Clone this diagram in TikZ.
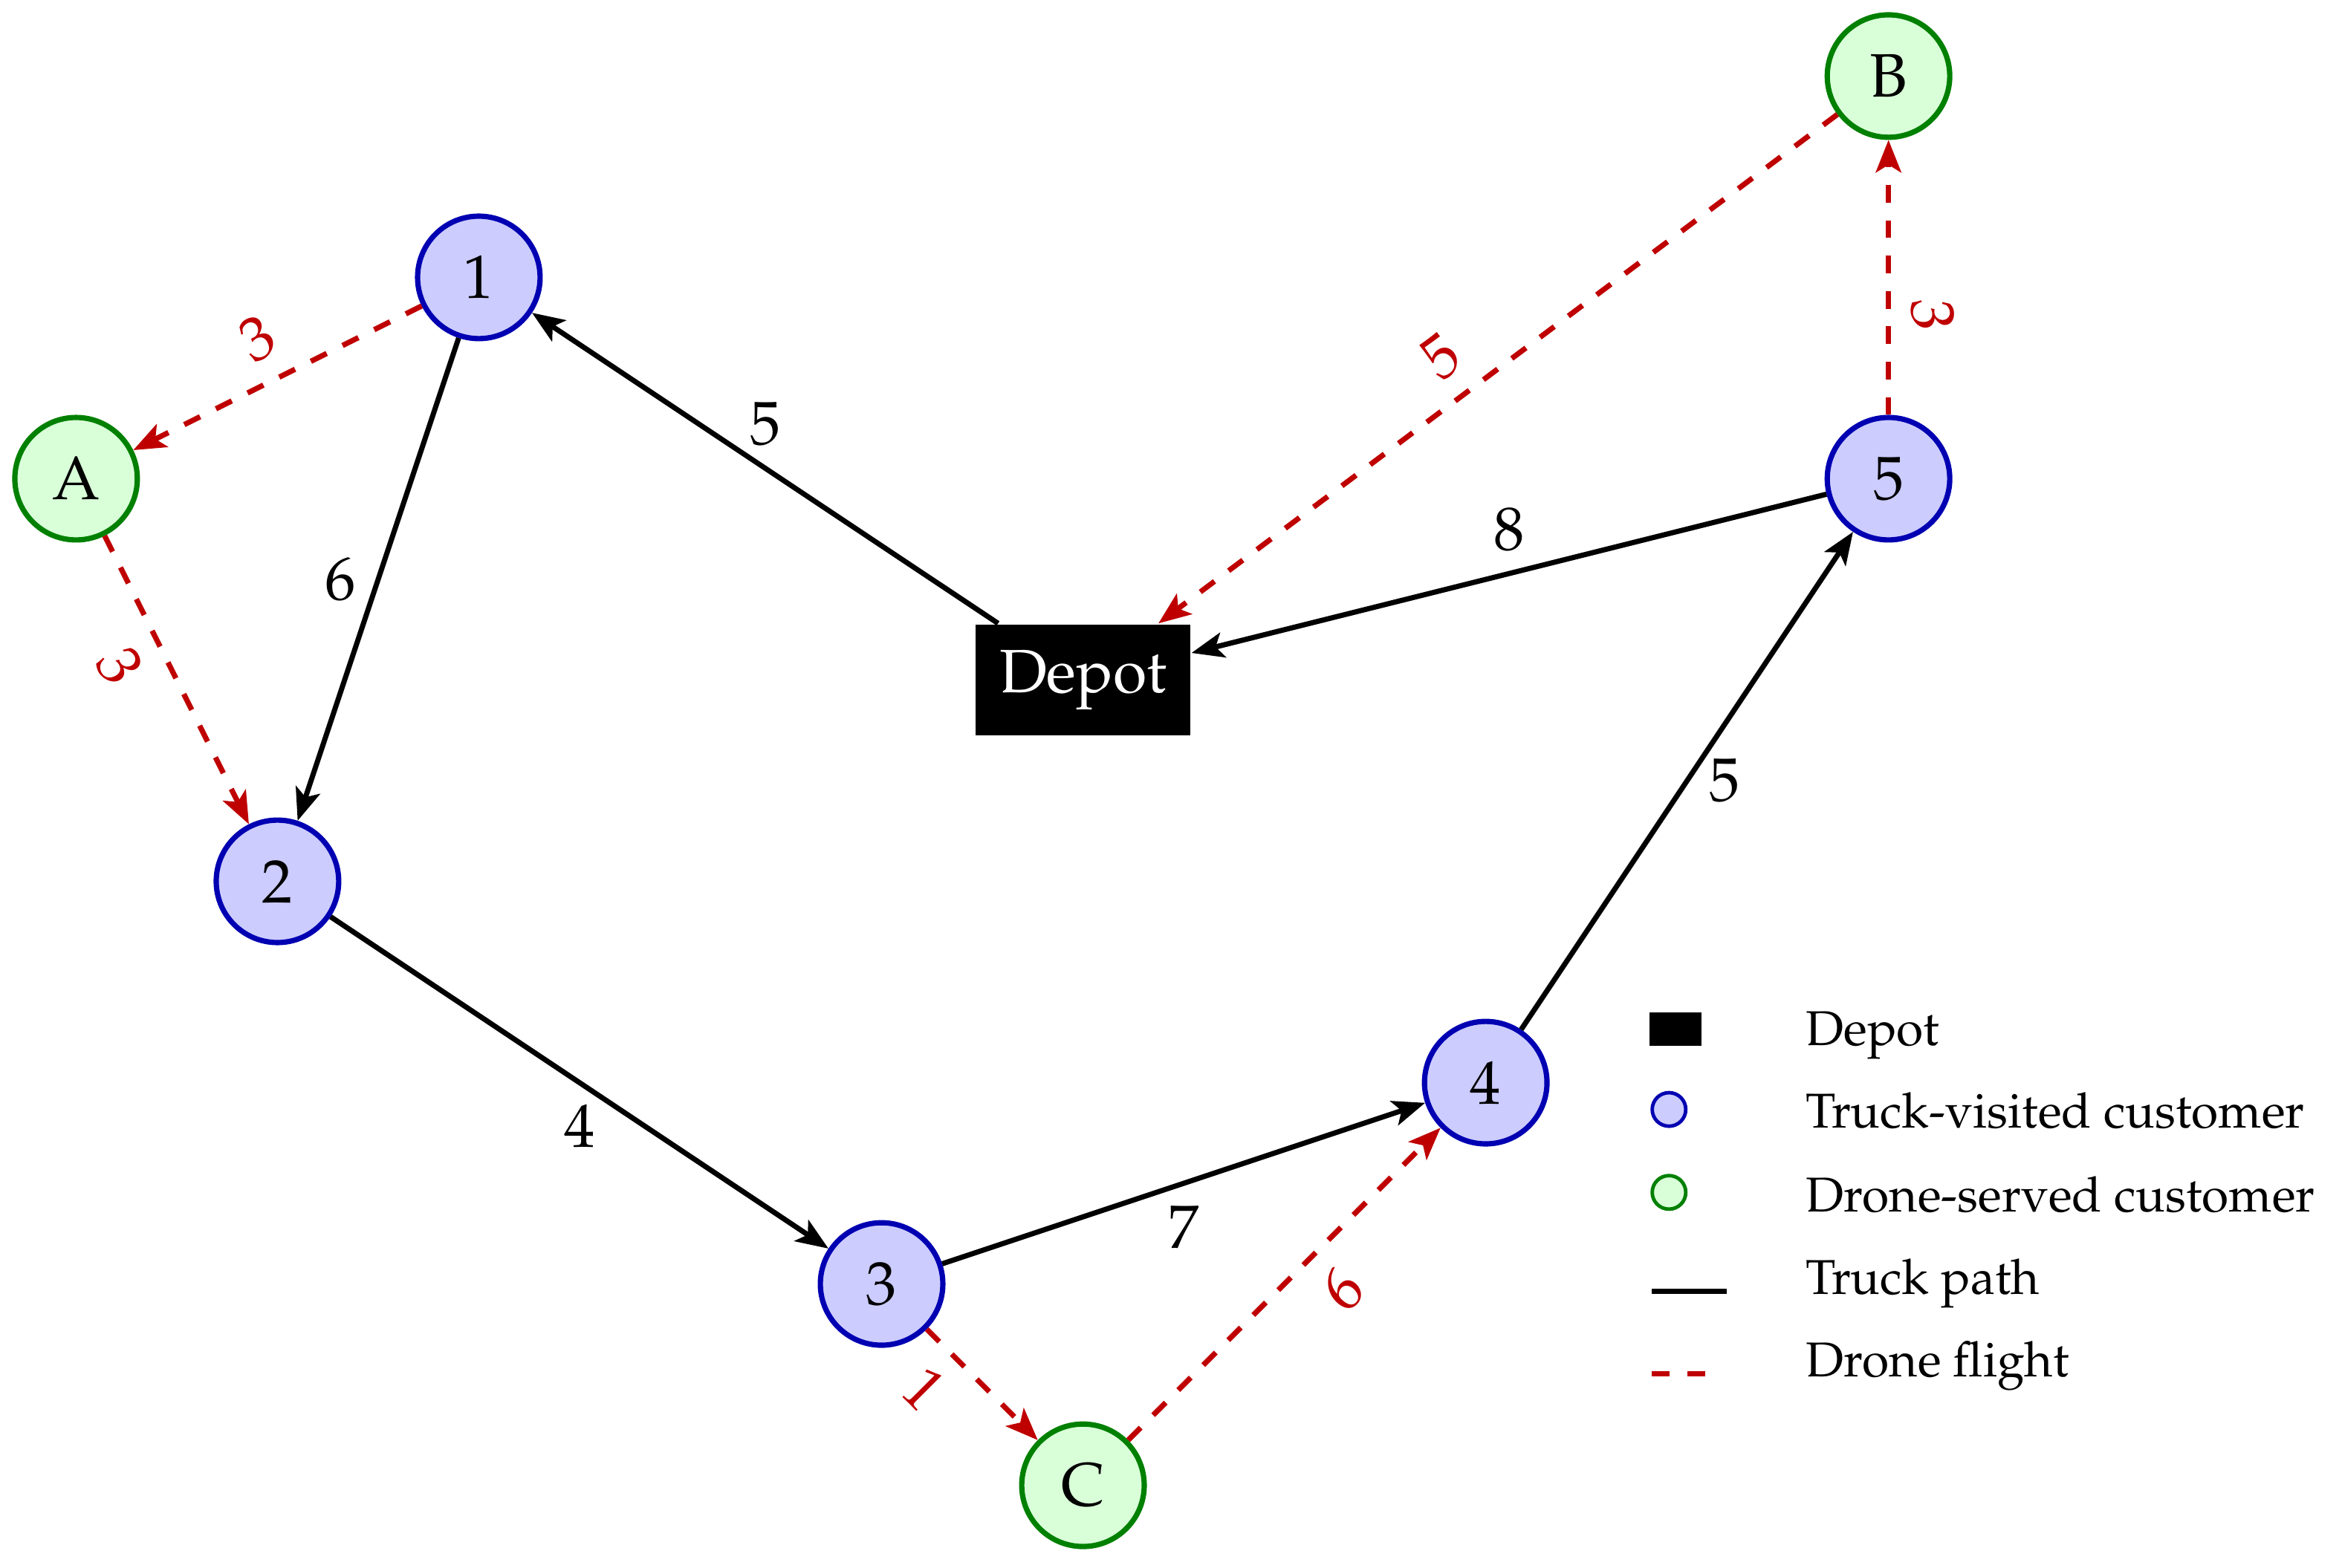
\documentclass[tikz,border=0pt]{standalone}
\usepackage[T1]{fontenc}
\usepackage{mathpazo}
\usetikzlibrary{arrows.meta}
\begin{document}
\begin{tikzpicture}[x=1.2cm,y=1.2cm,
  every node/.style={font=\fontsize{10.4}{12.5}\selectfont},
  truck/.style={circle, draw=blue!70!black, fill=blue!20, line width=0.9pt, minimum size=0.73cm, inner sep=0pt},
  drone/.style={circle, draw=green!50!black, fill=green!15, line width=0.9pt, minimum size=0.73cm, inner sep=0pt},
  depotbox/.style={rectangle, fill=black, text=white, minimum width=36.4pt, minimum height=18.8pt, inner sep=0pt},
  tip/.style={-{Stealth[length=5.5pt,width=4.3pt,inset=1.3pt]}},
  truckedge/.style={line width=0.88pt, black, tip},
  droneedge/.style={line width=0.9pt, red!75!black, dashed, tip},
  dlabel/.style={midway, text=red!75!black},
  legtext/.style={anchor=base west, inner sep=0pt, font=\fontsize{8.3}{10}\selectfont},
]
\useasboundingbox (-0.3778,0.3778) rectangle (11.237,-7.410);

% customers and depot
\node[truck] (n1) at (2,-1) {1};
\node[truck] (n2) at (1,-4) {2};
\node[truck] (n3) at (4,-6) {3};
\node[truck] (n4) at (7,-5) {4};
\node[truck] (n5) at (9,-2) {5};
\node[drone] (A) at (0,-2) {A};
\node[drone] (B) at (9,0) {B};
\node[drone] (C) at (5,-7) {C};
\node[depotbox] (dep) at (5,-3) {Depot};

% truck path
\draw[truckedge] (dep) -- node[above] {5} (n1);
\draw[truckedge] (n1) -- node[left] {6} (n2);
\draw[truckedge] (n2) -- node[below] {4} (n3);
\draw[truckedge] (n3) -- node[below] {7} (n4);
\draw[truckedge] (n4) -- node[right] {5} (n5);
\draw[truckedge] (n5) -- node[above] {8} (dep);

% drone flights
\draw[droneedge] (n1) -- node[dlabel, anchor=south, rotate=26.57] {3} (A);
\draw[droneedge] (A) -- node[dlabel, anchor=north east, rotate=-63.43] {3} (n2);
\draw[droneedge] (n3) -- node[dlabel, anchor=north east, rotate=-45] {1} (C);
\draw[droneedge] (C) -- node[dlabel, anchor=north west, rotate=45] {6} (n4);
\draw[droneedge] (n5) -- node[dlabel, anchor=south west, rotate=-90] {3} (B);
\draw[droneedge] (B) -- node[dlabel, anchor=south east, rotate=36.87] {5} (dep);

% legend
\node[fill=black, minimum width=0.31cm, minimum height=0.2cm, inner sep=0pt] (lgdep) at (7.943,-4.733) {};
\node[circle, draw=blue!70!black, fill=blue!20, line width=0.6pt, minimum size=0.2cm, inner sep=0pt] (lgtruck) at (7.910,-5.133) {};
\node[circle, draw=green!50!black, fill=green!15, line width=0.6pt, minimum size=0.2cm, inner sep=0pt] (lgdrone) at (7.910,-5.545) {};
\coordinate (lgt1) at (7.825,-6.036);
\coordinate (lgt2) at (8.197,-6.036);
\draw[line width=0.9pt] (lgt1) -- (lgt2);
\coordinate (lgd1) at (7.825,-6.447);
\coordinate (lgd2) at (8.108,-6.447);
\draw[line width=0.9pt, dashed, red!75!black] (lgd1) -- (lgd2);
\node[legtext] (lx1) at (8.585,-4.815) {Depot};
\node[legtext] (lx2) at (8.585,-5.225) {Truck-visited customer};
\node[legtext] (lx3) at (8.585,-5.640) {Drone-served customer};
\node[legtext] (lx4) at (8.585,-6.050) {Truck path};
\node[legtext] (lx5) at (8.585,-6.460) {Drone flight};
\end{tikzpicture}
\end{document}
